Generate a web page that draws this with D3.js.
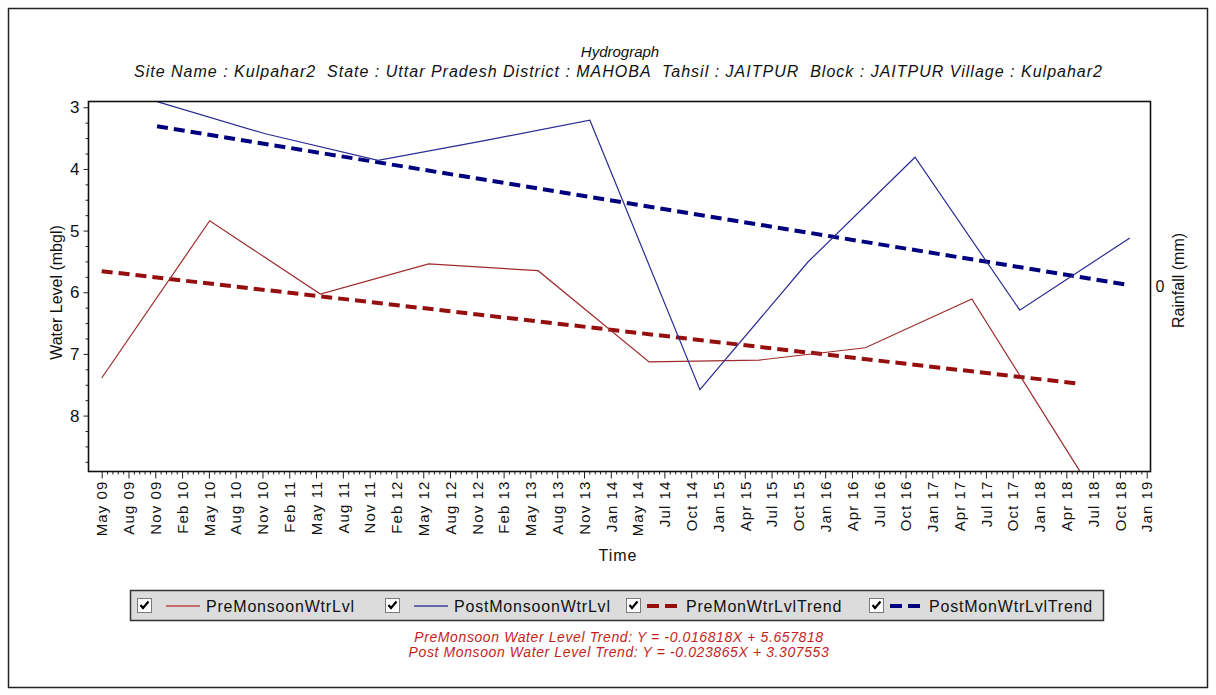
<!DOCTYPE html>
<html>
<head>
<meta charset="utf-8">
<script src="https://cdn.jsdelivr.net/npm/d3@7"></script>
<style>
  html, body { margin: 0; padding: 0; background: #ffffff; }
  svg { display: block; font-family: "Liberation Sans", Arial, sans-serif; }
</style>
</head>
<body>
<svg id="chart" width="1216" height="695"></svg>
<script>
// ---- Data -------------------------------------------------------------
const tickLabels = [
  "May 09", "Aug 09", "Nov 09", "Feb 10", "May 10", "Aug 10", "Nov 10", "Feb 11",
  "May 11", "Aug 11", "Nov 11", "Feb 12", "May 12", "Aug 12", "Nov 12", "Feb 13",
  "May 13", "Aug 13", "Nov 13", "Jan 14", "May 14", "Jul 14", "Oct 14", "Jan 15",
  "Apr 15", "Jul 15", "Oct 15", "Jan 16", "Apr 16", "Jul 16", "Oct 16", "Jan 17",
  "Apr 17", "Jul 17", "Oct 17", "Jan 18", "Apr 18", "Jul 18", "Oct 18", "Jan 19"
];
const axisStart = "2009-05-01";
const axisEnd = "2019-01-01";

// Pre-monsoon readings (mbgl)
const preDates = ["2009-05-01", "2010-05-01", "2011-05-10", "2012-05-10", "2013-05-15",
                  "2014-05-25", "2015-06-01", "2016-05-25", "2017-05-20", "2018-05-20"];
const preLevels = [7.39, 4.84, 6.03, 5.54, 5.65, 7.13, 7.10, 6.90, 6.11, 8.90];

// Post-monsoon readings (mbgl)
const postDates = ["2009-11-04", "2010-11-05", "2011-11-21", "2012-11-06", "2013-11-06",
                   "2014-11-13", "2015-11-13", "2016-11-09", "2017-10-29", "2018-11-05"];
const postLevels = [2.91, 3.43, 3.86, 3.55, 3.21, 7.58, 5.51, 3.81, 6.29, 5.12];

// Trend equations, X = months since the first reading of each series
const preTrendSlope = -0.016818, preTrendIntercept = 5.657818;
const postTrendSlope = -0.023865, postTrendIntercept = 3.307553;

const yMajorTicks = [3, 4, 5, 6, 7, 8];
const legendNames = ["PreMonsoonWtrLvl", "PostMonsoonWtrLvl", "PreMonWtrLvlTrend", "PostMonWtrLvlTrend"];

const titleText = "Hydrograph";
const subtitleText = "Site Name : Kulpahar2  State : Uttar Pradesh District : MAHOBA  Tahsil : JAITPUR  Block : JAITPUR Village : Kulpahar2";
const preEquation = `PreMonsoon Water Level Trend: Y = ${preTrendSlope.toFixed(6)}X + ${preTrendIntercept.toFixed(6)}`;
const postEquation = `Post Monsoon Water Level Trend: Y = ${postTrendSlope.toFixed(6)}X + ${postTrendIntercept.toFixed(6)}`;

// ---- Styling ----------------------------------------------------------
const colPre = "#9e2b2b", colPost = "#2b2b95";
const colPreTrend = "#960f0f", colPostTrend = "#00007f";
const colEq = "#c41e1e";
const legendPre = "#c04545", legendPost = "#40409a";

const parse = d3.timeParse("%Y-%m-%d");
const svg = d3.select("#chart");
const box = { left: 88.5, right: 1150.5, top: 101.5, bottom: 471.5 };

// outer frame
svg.append("rect").attr("x", 8.5).attr("y", 8.5).attr("width", 1199).attr("height", 679)
  .attr("fill", "#ffffff").attr("stroke", "#222").attr("stroke-width", 1.5);

const x = d3.scaleTime().domain([parse(axisStart), parse(axisEnd)]).range([101.7, 1146.7]);
const y = d3.scaleLinear().domain([2.91, 8.91]).range([101.7, 471.7]);

// ---- X axis -------------------------------------------------------------
const t0 = x.domain()[0].getTime(), t1 = x.domain()[1].getTime();
const step = (t1 - t0) / (tickLabels.length - 1);
const tickDates = tickLabels.map((_, i) => new Date(t0 + i * step));
const minorDates = [];
for (let i = 0; i < tickLabels.length - 1; i++) {
  for (let k = 1; k < 5; k++) minorDates.push(new Date(t0 + i * step + k * step / 5));
}

svg.append("g").attr("transform", `translate(0,${box.bottom})`)
  .call(d3.axisBottom(x).tickValues(minorDates).tickSize(3).tickFormat(""))
  .call(g => g.select(".domain").remove())
  .call(g => g.selectAll("line").attr("stroke", "#222"));

const xAxis = svg.append("g").attr("transform", `translate(0,${box.bottom})`)
  .call(d3.axisBottom(x).tickValues(tickDates).tickSize(7).tickFormat((d, i) => tickLabels[i]));
xAxis.select(".domain").remove();
xAxis.selectAll("line").attr("stroke", "#222");
xAxis.selectAll("text")
  .attr("transform", "rotate(-90)")
  .attr("text-anchor", "end")
  .attr("x", -9).attr("y", 0).attr("dy", "0.35em")
  .attr("fill", "#111")
  .style("font-size", "15px")
  .style("letter-spacing", "1.1px")
  .style("font-family", "'Liberation Sans', Arial, sans-serif");

// ---- Y axis -------------------------------------------------------------
const yMinor = d3.range(3, 8.9, 0.25).filter(v => Math.abs(v - Math.round(v)) > 1e-6);
svg.append("g").attr("transform", `translate(${box.left},0)`)
  .call(d3.axisLeft(y).tickValues(yMinor).tickSize(3).tickFormat(""))
  .call(g => g.select(".domain").remove())
  .call(g => g.selectAll("line").attr("stroke", "#222"));

const yAxis = svg.append("g").attr("transform", `translate(${box.left},0)`)
  .call(d3.axisLeft(y).tickValues(yMajorTicks).tickSize(5).tickPadding(4).tickFormat(d3.format("d")));
yAxis.select(".domain").remove();
yAxis.selectAll("line").attr("stroke", "#222");
yAxis.selectAll("text").attr("fill", "#111")
  .style("font-size", "17px")
  .style("font-family", "'Liberation Sans', Arial, sans-serif");

// right (rainfall) axis: single zero tick at the middle
const rainY = (box.top + box.bottom) / 2;
svg.append("text").attr("x", box.right + 5).attr("y", rainY).attr("dy", "0.35em")
  .attr("font-size", 16).attr("fill", "#111").text("0");

// ---- Series ------------------------------------------------------------
svg.append("clipPath").attr("id", "plotClip")
  .append("rect").attr("x", box.left).attr("y", box.top)
  .attr("width", box.right - box.left).attr("height", box.bottom - box.top);
const plotG = svg.append("g").attr("clip-path", "url(#plotClip)");

const pre = preDates.map((d, i) => ({ date: parse(d), v: preLevels[i] }));
const post = postDates.map((d, i) => ({ date: parse(d), v: postLevels[i] }));

const line = d3.line().x(d => x(d.date)).y(d => y(d.v));

// trend values from the equations (depth grows downwards, hence the sign)
const monthMs = 365.25 / 12 * 864e5;
function trend(series, slope, intercept) {
  const first = series[0].date, last = series[series.length - 1].date;
  return [first, last].map(dt => ({
    date: dt,
    v: intercept - slope * ((dt - first) / monthMs)
  }));
}

plotG.append("path").datum(trend(pre, preTrendSlope, preTrendIntercept))
  .attr("d", line).attr("fill", "none").attr("stroke", colPreTrend)
  .attr("stroke-width", 4).attr("stroke-dasharray", "11,6");
plotG.append("path").datum(trend(post, postTrendSlope, postTrendIntercept))
  .attr("d", line).attr("fill", "none").attr("stroke", colPostTrend)
  .attr("stroke-width", 4).attr("stroke-dasharray", "11,6");

plotG.append("path").datum(pre).attr("d", line)
  .attr("fill", "none").attr("stroke", colPre).attr("stroke-width", 1.2);
plotG.append("path").datum(post).attr("d", line)
  .attr("fill", "none").attr("stroke", colPost).attr("stroke-width", 1.2);

// plot frame
svg.append("rect").attr("x", box.left).attr("y", box.top)
  .attr("width", box.right - box.left).attr("height", box.bottom - box.top)
  .attr("fill", "none").attr("stroke", "#111").attr("stroke-width", 1.6);

// ---- Titles & axis labels --------------------------------------------
svg.append("text").attr("x", 620).attr("y", 57).attr("text-anchor", "middle")
  .attr("font-size", 15).attr("font-style", "italic").attr("fill", "#111").text(titleText);
svg.append("text").attr("x", 618).attr("y", 77).attr("text-anchor", "middle")
  .attr("font-size", 16).attr("font-style", "italic").attr("fill", "#111")
  .attr("xml:space", "preserve").style("white-space", "pre")
  .attr("textLength", 968).attr("lengthAdjust", "spacing")
  .text(subtitleText);

svg.append("text").attr("transform", `translate(62,${(box.top + box.bottom) / 2 + 6}) rotate(-90)`)
  .attr("text-anchor", "middle").attr("font-size", 16).attr("fill", "#111")
  .text("Water Level (mbgl)");
svg.append("text").attr("transform", `translate(1184,${(box.top + box.bottom) / 2 - 6}) rotate(-90)`)
  .attr("text-anchor", "middle").attr("font-size", 16).attr("fill", "#111")
  .text("Rainfall (mm)");
svg.append("text").attr("x", 618).attr("y", 561).attr("text-anchor", "middle")
  .attr("font-size", 16).attr("letter-spacing", "1px").attr("fill", "#111").text("Time");

// ---- Legend --------------------------------------------------------------
const legend = svg.append("g");
legend.append("rect").attr("x", 130.5).attr("y", 590.5).attr("width", 973).attr("height", 30)
  .attr("fill", "#dcdcdc").attr("stroke", "#333").attr("stroke-width", 1.5);

const legendX = [137, 385, 626, 869];
const legendColors = [legendPre, legendPost, colPreTrend, colPostTrend];
const legendDashed = [false, false, true, true];

legendNames.forEach((name, i) => {
  const g = legend.append("g").attr("transform", `translate(${legendX[i]},598)`);
  // checkbox
  g.append("rect").attr("x", 0.5).attr("y", 0.5).attr("width", 14).attr("height", 14)
    .attr("fill", "#ffffff").attr("stroke", "#7a7a7a");
  g.append("path").attr("d", "M3.5,7 L6,10 L11.5,3.5")
    .attr("fill", "none").attr("stroke", "#000").attr("stroke-width", 2.2);
  // sample
  if (legendDashed[i]) {
    g.append("line").attr("x1", 21).attr("x2", 55).attr("y1", 8).attr("y2", 8)
      .attr("stroke", legendColors[i]).attr("stroke-width", 4).attr("stroke-dasharray", "12,6");
  } else {
    g.append("line").attr("x1", 29).attr("x2", 63).attr("y1", 8).attr("y2", 8)
      .attr("stroke", legendColors[i]).attr("stroke-width", 1.3);
  }
  g.append("text").attr("x", legendDashed[i] ? 60 : 69).attr("y", 13.5)
    .attr("font-size", 16).attr("letter-spacing", "0.8px").attr("fill", "#111").text(name);
});

// ---- Trend equations -----------------------------------------------------
svg.append("text").attr("x", 619).attr("y", 642).attr("text-anchor", "middle")
  .attr("font-size", 14).attr("letter-spacing", "0.6px").attr("font-style", "italic")
  .attr("fill", colEq).text(preEquation);
svg.append("text").attr("x", 619).attr("y", 657).attr("text-anchor", "middle")
  .attr("font-size", 14).attr("letter-spacing", "0.6px").attr("font-style", "italic")
  .attr("fill", colEq).text(postEquation);
</script>
</body>
</html>
